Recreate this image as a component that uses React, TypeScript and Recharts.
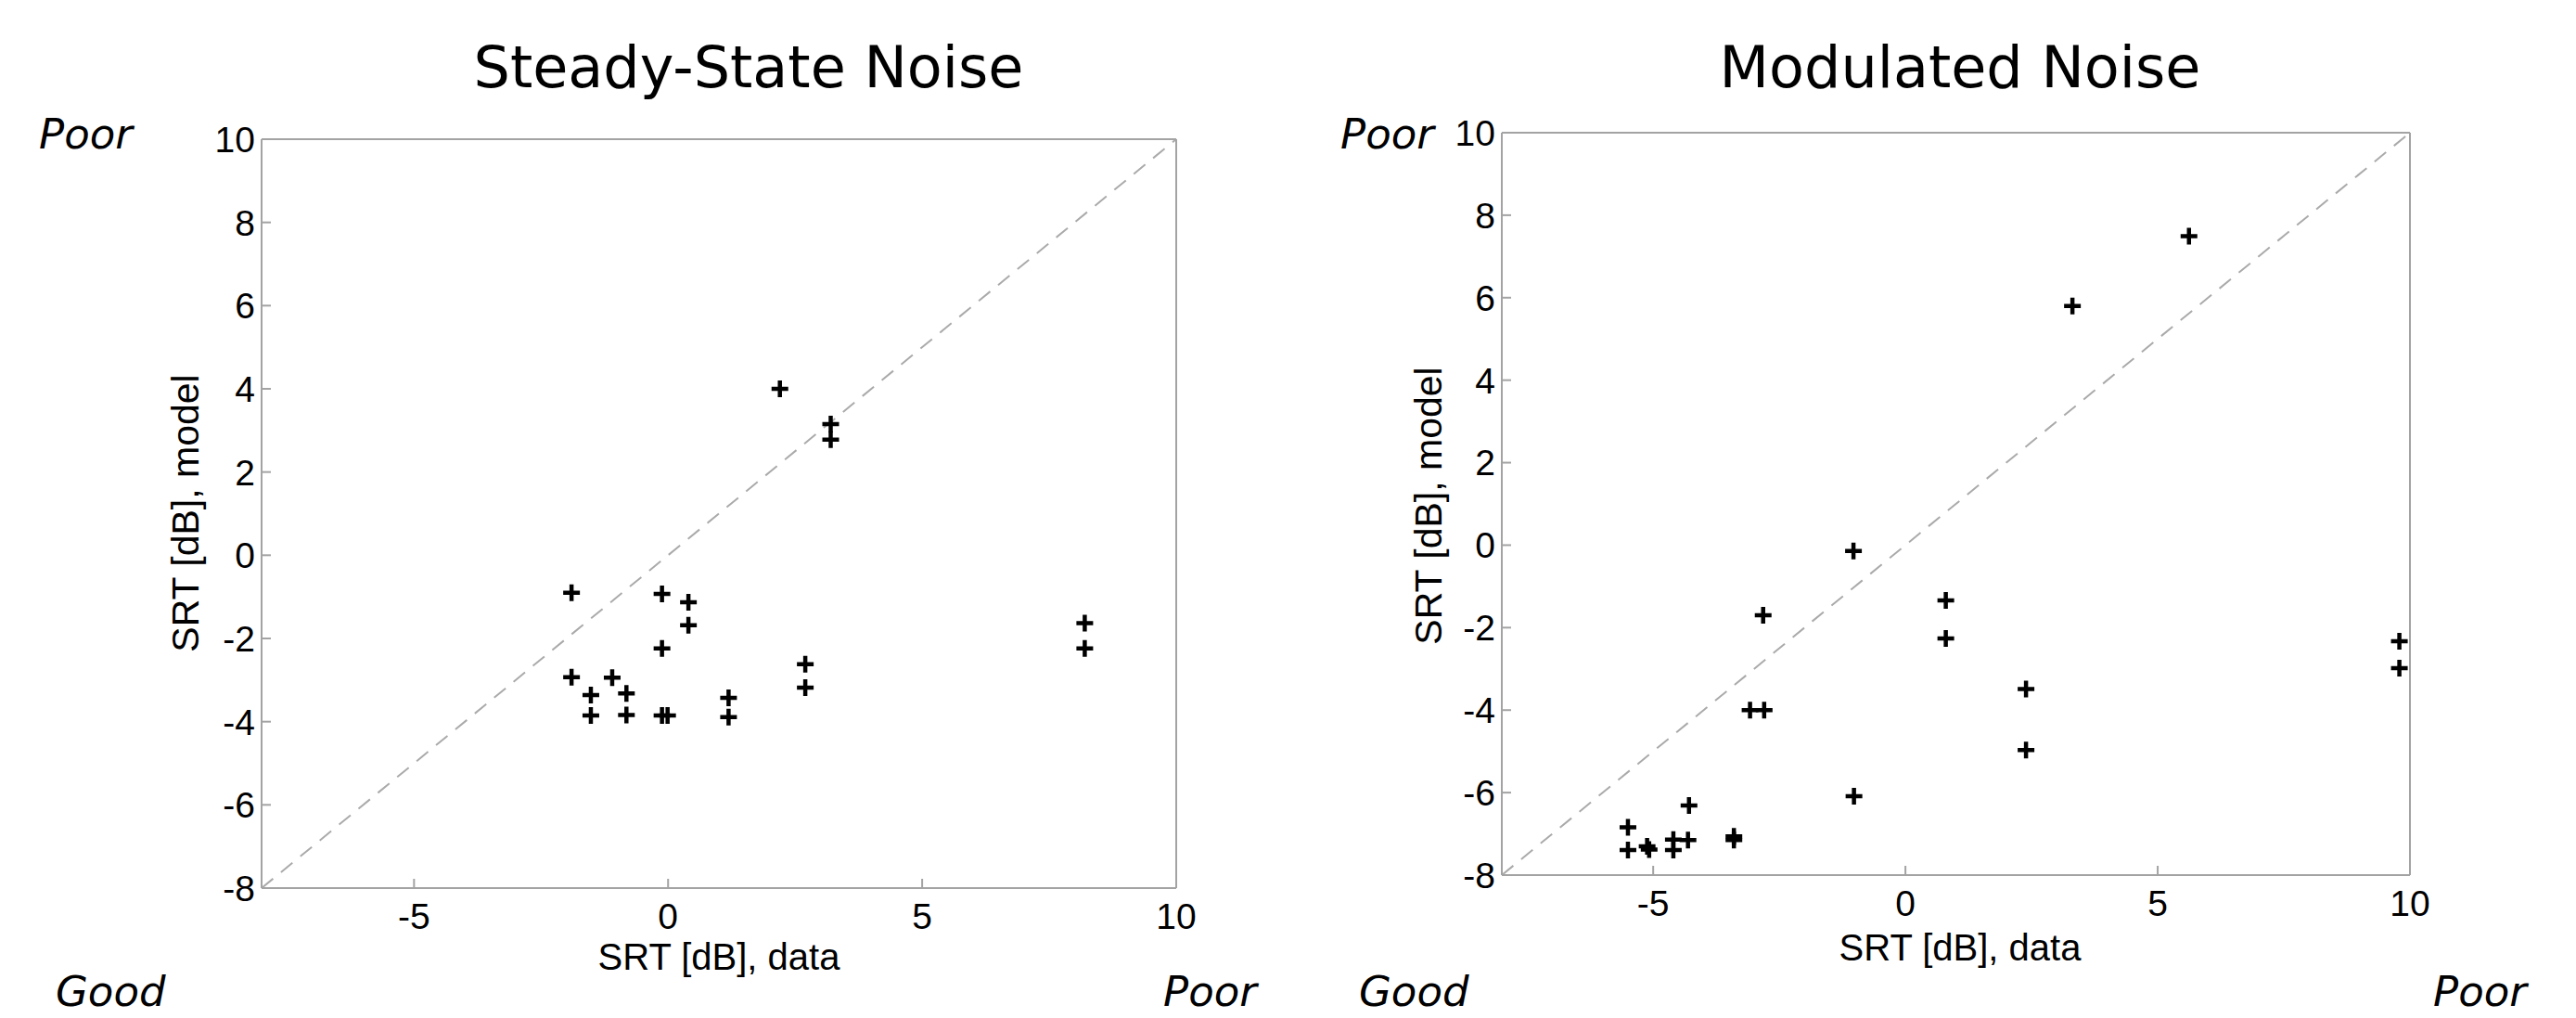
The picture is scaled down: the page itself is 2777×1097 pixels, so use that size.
import React from "react";
import {
  ReferenceLine,
  Scatter,
  ScatterChart,
  XAxis,
  YAxis,
} from "recharts";

// SRT values (x = data, y = model), in dB
const steadyX = [2.2, 3.2, 3.2, -1.9, -0.12, 0.4, 0.4, -0.12, -1.9, -1.1, -1.52, -1.52, -0.82, -0.82, -0.12, -0.01, 1.19, 1.19, 2.7, 2.7, 8.2, 8.2];
const steadyY = [4.0, 3.15, 2.78, -0.9, -0.93, -1.13, -1.68, -2.24, -2.93, -2.94, -3.36, -3.85, -3.32, -3.84, -3.85, -3.85, -3.43, -3.89, -2.62, -3.18, -1.63, -2.24];

const modX = [5.62, 3.31, -1.03, 0.8, 0.8, -2.82, -3.08, -2.8, 2.39, 2.39, -1.02, 9.79, 9.79, -4.29, -5.5, -5.5, -5.12, -5.08, -4.6, -4.6, -4.31, -3.4, -3.4];
const modY = [7.49, 5.8, -0.14, -1.34, -2.26, -1.7, -4.0, -4.0, -3.49, -4.97, -6.09, -2.33, -2.98, -6.31, -6.84, -7.39, -7.3, -7.38, -7.14, -7.39, -7.15, -7.06, -7.15];

const xTicks = [-5, 0, 5, 10];
const yTicks = [-8, -6, -4, -2, 0, 2, 4, 6, 8, 10];
const domain: [number, number] = [-8, 10];

const toPoints = (xs: number[], ys: number[]) => xs.map((x, i) => ({ x, y: ys[i] }));
const steadyData = toPoints(steadyX, steadyY);
const modData = toPoints(modX, modY);

const AXIS = "#a3a3a3";
const tickFont = { fill: "#000", fontSize: 39, fontFamily: "Liberation Sans, Arial, sans-serif" };
const axisLine = { stroke: AXIS, strokeWidth: 2 };

const Cross = (props: any) => {
  const { cx, cy } = props;
  if (cx == null || cy == null) return null;
  const s = 9;
  return (
    <path
      d={`M${cx - s},${cy}H${cx + s}M${cx},${cy - s}V${cy + s}`}
      stroke="#000"
      strokeWidth={4.5}
      fill="none"
    />
  );
};

type PanelProps = {
  data: { x: number; y: number }[];
  width: number;
  margin: { top: number; right: number; bottom: number; left: number };
};

// top and right axes only draw the box edge and inward ticks
const Panel = ({ data, width, margin }: PanelProps) => (
  <ScatterChart width={width} height={1097} margin={margin}>
    <XAxis
      xAxisId="b"
      type="number"
      dataKey="x"
      domain={domain}
      ticks={xTicks}
      height={80}
      tickSize={-10}
      tickMargin={26}
      axisLine={axisLine}
      tickLine={axisLine}
      tick={tickFont}
    />
    <XAxis
      xAxisId="t"
      orientation="top"
      type="number"
      domain={domain}
      ticks={xTicks}
      height={1}
      tickSize={-10}
      tick={false}
      axisLine={axisLine}
      tickLine={axisLine}
    />
    <YAxis
      yAxisId="l"
      type="number"
      dataKey="y"
      domain={domain}
      ticks={yTicks}
      width={80}
      tickSize={-10}
      tickMargin={17}
      axisLine={axisLine}
      tickLine={axisLine}
      tick={tickFont}
    />
    <YAxis
      yAxisId="r"
      orientation="right"
      type="number"
      domain={domain}
      ticks={yTicks}
      width={1}
      tickSize={-10}
      tick={false}
      axisLine={axisLine}
      tickLine={axisLine}
    />
    <ReferenceLine
      xAxisId="b"
      yAxisId="l"
      segment={[{ x: -8, y: -8 }, { x: 10, y: 10 }]}
      stroke="#aaaaaa"
      strokeWidth={2}
      strokeDasharray="16 11"
    />
    <Scatter
      xAxisId="b"
      yAxisId="l"
      data={data}
      shape={Cross}
      isAnimationActive={false}
    />
  </ScatterChart>
);

const sans = "Liberation Sans, Arial, sans-serif";
const dejavu = "DejaVu Sans, Verdana, sans-serif";

export default function App() {
  return (
    <div style={{ position: "absolute", left: 0, top: 0, width: 2777, height: 1097, background: "#fff", overflow: "hidden" }}>
      <div style={{ position: "absolute", left: 0, top: 0 }}>
        <Panel data={steadyData} width={1390} margin={{ top: 149, right: 121, bottom: 60, left: 202 }} />
      </div>
      <div style={{ position: "absolute", left: 1390, top: 0 }}>
        <Panel data={modData} width={1387} margin={{ top: 142, right: 178, bottom: 74, left: 149 }} />
      </div>
      <svg
        width={2777}
        height={1097}
        style={{ position: "absolute", left: 0, top: 0, pointerEvents: "none" }}
      >
        <text x={807} y={94} textAnchor="middle" fontFamily={dejavu} fontSize={62}>Steady-State Noise</text>
        <text x={2113} y={94} textAnchor="middle" fontFamily={dejavu} fontSize={62}>Modulated Noise</text>

        <text x={775} y={1045} textAnchor="middle" fontFamily={sans} fontSize={40}>SRT [dB], data</text>
        <text x={2113} y={1035} textAnchor="middle" fontFamily={sans} fontSize={40}>SRT [dB], data</text>
        <text transform="translate(214,553) rotate(-90)" textAnchor="middle" fontFamily={sans} fontSize={41}>SRT [dB], model</text>
        <text transform="translate(1554,545) rotate(-90)" textAnchor="middle" fontFamily={sans} fontSize={41}>SRT [dB], model</text>

        <g fontFamily={dejavu} fontStyle="italic" fontSize={45}>
          <text x={42} y={160}>Poor</text>
          <text x={60} y={1084}>Good</text>
          <text x={1254} y={1084}>Poor</text>
          <text x={1445} y={160}>Poor</text>
          <text x={1465} y={1084}>Good</text>
          <text x={2623} y={1084}>Poor</text>
        </g>
      </svg>
    </div>
  );
}
